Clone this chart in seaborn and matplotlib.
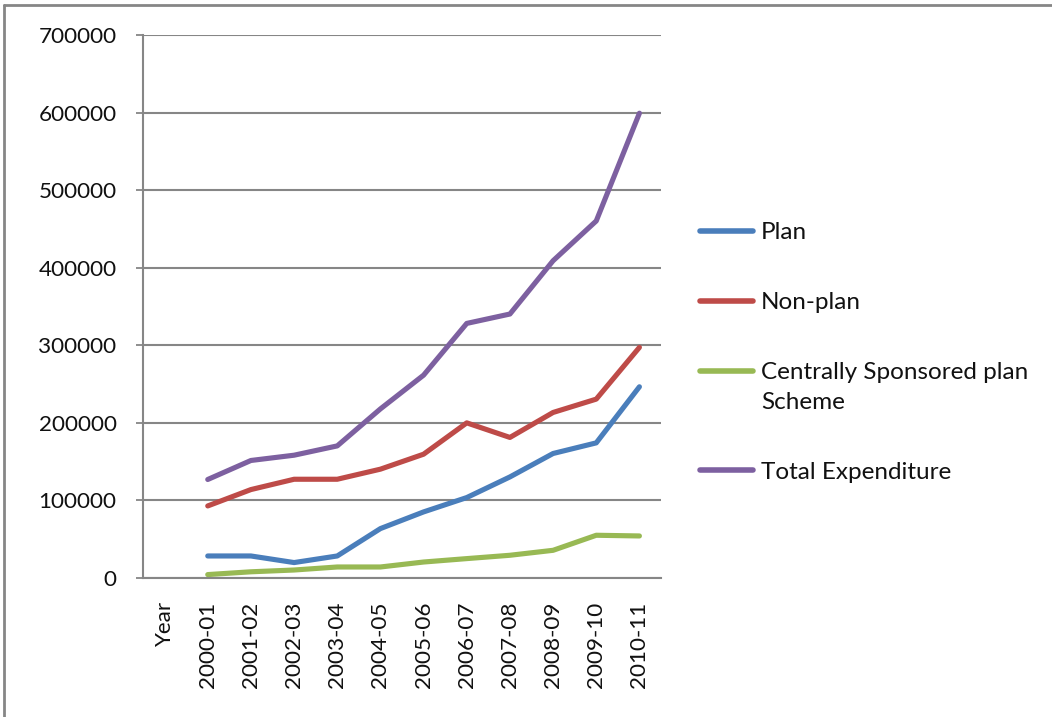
import matplotlib
matplotlib.use("Agg")
import matplotlib.pyplot as plt
from matplotlib.lines import Line2D
from matplotlib.offsetbox import TextArea
import seaborn as sns
import pandas as pd
import numpy as np

categories = ["Year", "2000-01", "2001-02", "2002-03", "2003-04", "2004-05", "2005-06",
              "2006-07", "2007-08", "2008-09", "2009-10", "2010-11"]
plan = [None, 28400, 28400, 19900, 28400, 63700, 85200, 103700, 130300, 160500, 174200, 246500]
non_plan = [None, 92900, 114000, 127300, 127300, 140300, 159600, 200000, 181200, 213400, 230600, 297300]
css = [None, 4400, 8000, 10300, 14200, 14200, 20600, 25000, 29300, 35700, 55100, 54200]
total = [None, 127000, 151500, 158300, 170300, 218000, 261500, 328200, 340300, 409000, 460300, 599200]

series_names = ["Plan", "Non-plan", "Centrally Sponsored plan\nScheme", "Total Expenditure"]
series_values = [plan, non_plan, css, total]
colors = ["#4A7EBB", "#BE4B48", "#98B954", "#7D60A0"]
y_ticks = [0, 100000, 200000, 300000, 400000, 500000, 600000, 700000]

rows = []
for name, vals in zip(series_names, series_values):
    for i, v in enumerate(vals):
        if v is not None:
            rows.append({"pos": i, "category": categories[i], "value": v, "series": name})
df = pd.DataFrame(rows)

sns.set_style("white")
plt.rcParams["font.family"] = ["Lato", "DejaVu Sans"]

W, H = 1052, 717
fig = plt.figure(figsize=(W / 100, H / 100), dpi=100)
ax = fig.add_axes([143 / W, 1 - 578 / H, (661 - 143) / W, (578 - 35) / H])

sns.lineplot(data=df, x="pos", y="value", hue="series", hue_order=series_names,
             palette=colors, linewidth=3.7, ax=ax, solid_capstyle="round", legend=True)

grid_c = "#868686"
tick_fs = 16.2
ax.set_xlim(-0.5, len(categories) - 0.5)
ax.set_ylim(0, 700000)
ax.set_yticks(y_ticks)
ax.set_yticklabels([str(t) for t in y_ticks], fontsize=tick_fs, color="#111111")
ax.set_xticks(range(len(categories)))
ax.set_xticklabels(categories, rotation=90, fontsize=tick_fs, color="#111111")
ax.set_xticks(np.arange(-0.5, len(categories), 1.0), minor=True)
ax.tick_params(axis="x", which="major", length=0, pad=17)
ax.tick_params(axis="x", which="minor", length=6, width=1.3, color=grid_c, direction="out")
ax.tick_params(axis="y", which="major", length=5, width=1.3, color=grid_c, direction="out", left=True, pad=14)
ax.yaxis.grid(True, color=grid_c, linewidth=1.5)
ax.xaxis.grid(False)
ax.set_axisbelow(True)
for s in ["top", "right"]:
    ax.spines[s].set_visible(False)
for s in ["left", "bottom"]:
    ax.spines[s].set_color(grid_c)
    ax.spines[s].set_linewidth(1.5)
ax.set_xlabel("")
ax.set_ylabel("")

handles, labels = ax.get_legend_handles_labels()
for h in handles:
    h.set_linewidth(4)
leg = ax.legend(handles, labels, loc="upper left", bbox_to_anchor=(700 / W, 1 - 222 / H),
                bbox_transform=fig.transFigure, frameon=False, fontsize=17.5,
                handlelength=2.2, handletextpad=0.3, labelspacing=2.02, borderpad=0,
                borderaxespad=0)
for t in leg.get_texts():
    t.set_color("#111111")
    t.set_linespacing(1.5)
# align the handle of the two-line entry with its first line
try:
    for col in leg._legend_handle_box.get_children():
        for item in col.get_children():
            kids = item.get_children()
            if any(isinstance(k, TextArea) and "\n" in k.get_text() for k in kids):
                item.align = "top"
except Exception:
    pass

# figure frame
fig.add_artist(Line2D([4 / W, 1.0], [1 - 5 / H, 1 - 5 / H], transform=fig.transFigure,
                      color=grid_c, linewidth=2))
fig.add_artist(Line2D([4 / W, 4 / W], [0.0, 1 - 5 / H], transform=fig.transFigure,
                      color=grid_c, linewidth=2))

fig.savefig("out.png", dpi=100)
